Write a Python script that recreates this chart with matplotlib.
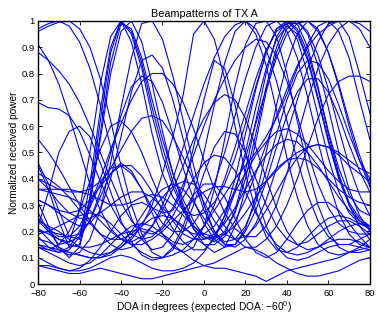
import matplotlib
matplotlib.use("Agg")
import matplotlib.pyplot as plt
from matplotlib.ticker import FormatStrFormatter
import numpy as np

plt.rcParams['font.family'] = ['Liberation Sans', 'DejaVu Sans']
plt.rcParams['mathtext.default'] = 'regular'

# DOA grid (degrees), 5 degree steps
doa = list(range(-80, 81, 5))

# normalized received power, one list per beampattern
bp01 = [.97, .99, 1.0, .98, .92, .82, .68, .52, .37, .25, .17, .13, .14, .19, .27, .34, .38, .38, .33, .25, .17, .12, .10, .12, .17, .23, .28, .31, .31, .28, .23, .18, .14]
bp02 = [.96, .98, .995, 1.0, .97, .90, .78, .62, .45, .30, .19, .12, .10, .13, .20, .30, .42, .52, .58, .57, .50, .40, .30, .22, .17, .15, .16, .19, .22, .24, .24, .22, .19]
bp03 = [.91, .85, .76, .64, .51, .38, .28, .21, .17, .16, .18, .22, .28, .36, .45, .55, .63, .69, .72, .70, .63, .52, .40, .29, .20, .15, .13, .14, .17, .20, .22, .23, .22]
bp04 = [.88, .85, .81, .76, .69, .60, .50, .40, .31, .24, .20, .19, .21, .26, .33, .40, .46, .49, .48, .43, .35, .27, .20, .15, .12, .11, .12, .14, .16, .17, .17, .16, .14]
bp05 = [.69, .67, .665, .64, .58, .49, .39, .30, .23, .19, .17, .18, .22, .29, .38, .49, .60, .70, .78, .85, .90, .93, .92, .87, .77, .64, .50, .38, .29, .23, .20, .19, .19]
bp06 = [.55, .50, .44, .37, .30, .24, .19, .15, .13, .14, .17, .22, .30, .40, .52, .64, .76, .86, .94, .985, 1.0, .97, .89, .77, .62, .47, .34, .24, .18, .15, .15, .17, .19]
bp07 = [.46, .38, .28, .18, .17, .38, .66, .90, 1.0, .95, .82, .64, .49, .37, .28, .21, .17, .18, .24, .35, .50, .67, .82, .93, .98, .95, .85, .70, .54, .40, .30, .24, .22]
bp08 = [.45, .36, .24, .14, .15, .33, .62, .88, 1.0, .96, .84, .67, .52, .39, .29, .21, .15, .12, .14, .22, .36, .54, .73, .88, .97, 1.0, .95, .83, .67, .50, .36, .26, .20]
bp09 = [.31, .22, .14, .10, .14, .30, .57, .84, .99, .97, .86, .70, .55, .42, .32, .24, .18, .16, .19, .28, .43, .62, .80, .94, 1.0, .97, .88, .74, .57, .42, .30, .22, .17]
bp10 = [.27, .20, .15, .16, .28, .50, .76, .94, 1.0, .92, .76, .57, .42, .33, .28, .26, .27, .31, .38, .48, .61, .75, .88, .97, .99, .93, .80, .64, .48, .35, .27, .23, .22]
bp11 = [.18, .14, .12, .13, .18, .32, .55, .80, .96, 1.0, .92, .76, .58, .42, .30, .22, .18, .17, .20, .27, .40, .57, .75, .90, .99, .99, .90, .75, .58, .44, .34, .28, .26]
bp12 = [.21, .17, .13, .11, .12, .17, .28, .46, .67, .86, .99, 1.0, .93, .79, .62, .45, .30, .20, .15, .15, .21, .33, .50, .68, .84, .95, 1.0, .97, .88, .75, .60, .47, .37]
bp13 = [.32, .30, .27, .24, .22, .23, .28, .40, .56, .73, .85, .87, .82, .70, .55, .40, .28, .20, .16, .17, .22, .31, .43, .57, .70, .80, .85, .84, .78, .68, .57, .47, .40]
bp14 = [.24, .20, .17, .16, .18, .24, .35, .50, .64, .75, .79, .77, .69, .57, .44, .32, .23, .17, .14, .15, .20, .28, .39, .52, .64, .73, .78, .78, .73, .64, .53, .43, .35]
bp15 = [.40, .38, .36, .35, .35, .36, .39, .44, .51, .58, .63, .64, .62, .56, .48, .39, .31, .24, .19, .17, .18, .22, .28, .35, .42, .48, .52, .53, .52, .49, .45, .42, .39]
bp16 = [.36, .36, .36, .36, .35, .34, .32, .30, .30, .31, .33, .34, .33, .30, .26, .22, .19, .18, .19, .22, .27, .33, .39, .44, .47, .48, .47, .44, .40, .36, .33, .31, .30]
bp17 = [.14, .13, .15, .20, .28, .39, .51, .60, .62, .58, .50, .40, .31, .24, .19, .17, .17, .19, .23, .29, .36, .43, .49, .53, .55, .54, .50, .45, .39, .33, .28, .24, .21]
bp18 = [.17, .16, .14, .12, .11, .10, .10, .12, .14, .17, .22, .30, .42, .56, .72, .95, 1.0, .93, .78, .60, .42, .28, .18, .13, .12, .14, .18, .22, .25, .26, .25, .23, .21]
bp19 = [.07, .07, .06, .05, .06, .09, .14, .20, .26, .30, .31, .29, .27, .28, .36, .52, .70, .85, .82, .68, .50, .34, .22, .14, .10, .09, .10, .12, .14, .15, .15, .14, .13]
bp20 = [.22, .35, .50, .58, .60, .56, .46, .35, .24, .16, .11, .09, .10, .14, .22, .34, .50, .68, .84, .96, 1.0, .95, .83, .66, .48, .33, .22, .15, .12, .11, .12, .13, .14]
bp21 = [.19, .20, .19, .18, .19, .24, .33, .42, .46, .43, .36, .27, .19, .14, .12, .14, .22, .36, .55, .75, .91, .99, 1.0, .94, .80, .62, .44, .30, .20, .14, .12, .12, .13]
bp22 = [.15, .13, .12, .14, .20, .29, .38, .44, .45, .42, .36, .29, .23, .20, .20, .23, .29, .38, .50, .64, .78, .90, .98, 1.0, .96, .86, .71, .54, .39, .27, .19, .15, .14]
bp23 = [.32, .30, .28, .27, .28, .32, .37, .42, .45, .45, .41, .35, .28, .21, .16, .13, .13, .17, .26, .40, .57, .74, .88, .97, 1.0, .96, .86, .71, .55, .41, .31, .25, .22]
bp24 = [.14, .12, .10, .08, .07, .08, .11, .15, .19, .22, .23, .22, .19, .16, .15, .17, .22, .30, .40, .52, .65, .78, .89, .96, .99, 1.0, .96, .87, .74, .59, .45, .34, .26]
bp25 = [.10, .08, .06, .05, .05, .06, .08, .10, .11, .10, .08, .06, .05, .05, .06, .08, .12, .18, .26, .36, .48, .61, .74, .86, .95, .99, 1.0, .96, .88, .76, .62, .49, .38]
bp26 = [.19, .20, .22, .24, .26, .27, .26, .23, .19, .15, .12, .10, .10, .11, .13, .17, .22, .28, .34, .40, .45, .50, .56, .63, .72, .82, .91, .98, 1.0, .96, .86, .70, .55]
bp27 = [.24, .22, .20, .17, .14, .12, .11, .12, .15, .20, .26, .32, .36, .38, .36, .31, .25, .19, .15, .14, .17, .23, .32, .44, .57, .70, .82, .92, .99, 1.0, .94, .80, .65]
bp28 = [.15, .14, .13, .12, .11, .10, .10, .11, .14, .18, .22, .25, .26, .25, .22, .18, .15, .15, .18, .24, .32, .42, .53, .64, .74, .83, .90, .95, .98, 1.0, 1.0, .99, .96]
bp29 = [.25, .21, .18, .18, .22, .30, .40, .51, .61, .70, .77, .80, .80, .76, .69, .59, .47, .36, .27, .21, .18, .18, .22, .30, .42, .56, .70, .82, .91, .97, 1.0, .97, .90]
bp30 = [.42, .40, .37, .33, .28, .23, .19, .17, .17, .19, .23, .28, .33, .37, .39, .38, .34, .28, .22, .17, .14, .14, .17, .22, .30, .40, .52, .63, .72, .77, .79, .79, .77]
bp31 = [.40, .36, .31, .27, .25, .25, .27, .30, .33, .35, .35, .33, .29, .25, .21, .19, .19, .22, .28, .35, .42, .49, .54, .58, .59, .57, .53, .48, .43, .39, .36, .35, .35]
bp32 = [.07, .06, .05, .04, .04, .05, .06, .05, .04, .03, .02, .02, .03, .04, .05, .06, .07, .08, .10, .12, .14, .13, .11, .08, .06, .04, .03, .03, .04, .05, .07, .09, .10]
bp33 = [.21, .19, .17, .15, .14, .14, .15, .17, .19, .20, .21, .20, .18, .15, .12, .09, .07, .06, .06, .05, .04, .03, .01, .03, .05, .06, .07, .08, .09, .10, .12, .14, .17]
bp34 = [.36, .35, .34, .33, .31, .28, .24, .20, .17, .15, .15, .17, .20, .24, .28, .32, .35, .37, .37, .36, .35, .36, .39, .43, .47, .50, .52, .53, .52, .50, .47, .44, .42]

patterns = [bp01, bp02, bp03, bp04, bp05, bp06, bp07, bp08, bp09, bp10, bp11, bp12,
            bp13, bp14, bp15, bp16, bp17, bp18, bp19, bp20, bp21, bp22, bp23, bp24,
            bp25, bp26, bp27, bp28, bp29, bp30, bp31, bp32, bp33, bp34]

fig = plt.figure(figsize=(3.77, 3.14), dpi=100)
ax = fig.add_axes([0.101, 0.0955, 0.880, 0.838])

for bp in patterns:
    ax.plot(doa, bp, color=(0, 0, 1), lw=0.8)

ax.set_xlim(-80, 80)
ax.set_ylim(0, 1)
ax.set_xticks(np.arange(-80, 81, 20))
ax.set_yticks(np.arange(0, 1.01, 0.1))
ax.yaxis.set_major_formatter(FormatStrFormatter('%g'))
ax.tick_params(direction='in', top=True, right=True, labelsize=6.8, length=3, width=0.6)
ax.tick_params(axis='x', pad=3.5)
ax.tick_params(axis='y', pad=2.5)
for s in ax.spines.values():
    s.set_linewidth(1.0)

ax.set_title("Beampatterns of TX A", fontsize=7.8, pad=3)
ax.set_xlabel("DOA in degrees (expected DOA: \u221260$^0$)", fontsize=7.3, labelpad=1)
ax.set_ylabel("Normalized received power", fontsize=7.3, labelpad=2)

fig.savefig("out.png", dpi=100, facecolor='white')
